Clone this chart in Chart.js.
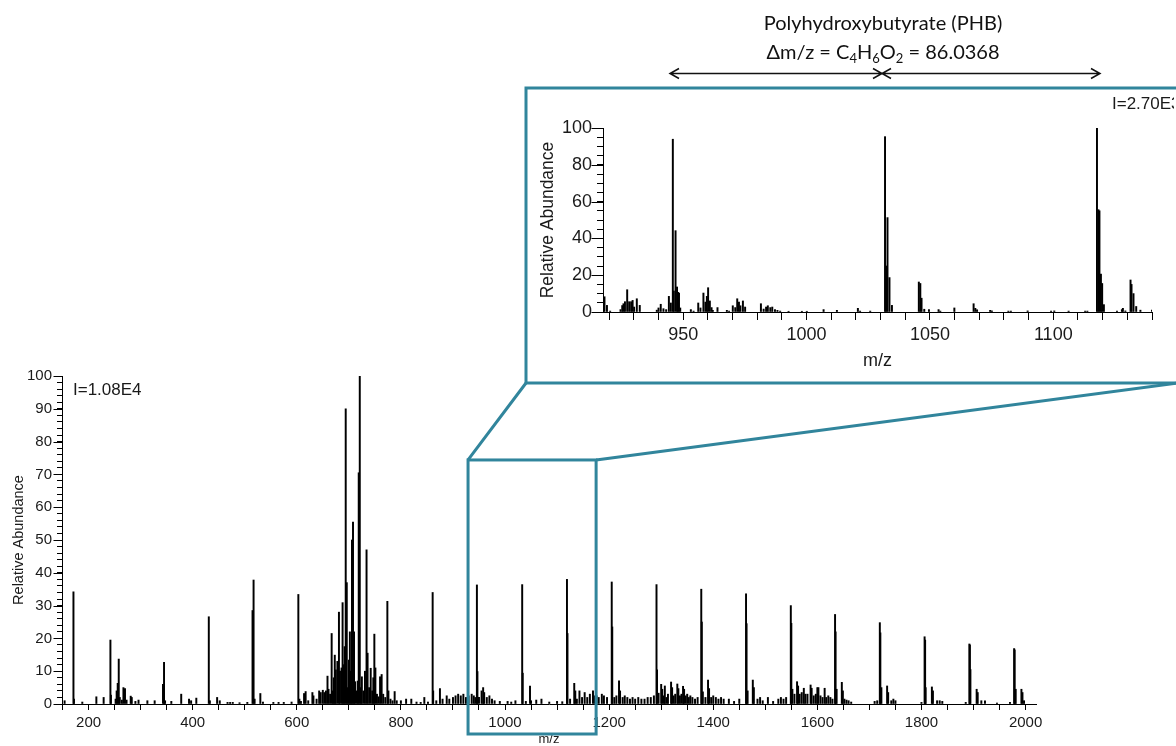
<!DOCTYPE html>
<html>
<head>
<meta charset="utf-8">
<script src="https://cdn.jsdelivr.net/npm/chart.js@4.4.1/dist/chart.umd.min.js"></script>
<style>
  html, body { margin: 0; padding: 0; background: #fff; overflow: hidden; }
  #wrap { position: relative; width: 1176px; height: 746px; }
  #main { position: absolute; left: 0; top: 0; }
  #inset { position: absolute; left: 530px; top: 92px; }
  .phb { position: absolute; left: 633px; width: 500px; text-align: center; font-family: Lato, "Open Sans", sans-serif;
         font-size: 20px; line-height: 24px; color: #111; white-space: nowrap; }
  .phb sub { font-size: 13px; line-height: 0; vertical-align: -4px; }
</style>
</head>
<body>
<div id="wrap">
  <canvas id="main" width="1176" height="746"></canvas>
  <canvas id="inset" width="644" height="288"></canvas>
  <div class="phb" style="top:10px">Polyhydroxybutyrate (PHB)</div>
  <div class="phb" style="top:39px">&Delta;m/z = C<sub>4</sub>H<sub>6</sub>O<sub>2</sub> = 86.0368</div>
</div>
<script>
// full scan, m/z 150-2020
const mainMz = [154, 171, 172, 188, 215, 229, 242, 243, 252, 254, 256, 258, 260, 264, 267, 270, 273, 281, 283, 290,
  296, 313, 327, 343, 345, 347, 359, 378, 393, 397, 407, 431, 433, 447, 452, 467, 472, 477, 490, 505,
  515, 517, 519, 530, 535, 555, 565, 575, 590, 603, 605, 608, 614, 617, 622, 630, 632, 638, 643, 646,
  650, 653, 656, 659, 661, 664, 667, 669, 671, 673, 675, 678, 681, 683, 686, 688, 690, 692, 694, 696,
  698, 700, 702, 704, 706, 708, 710, 712, 715, 717, 719, 721, 723, 725, 728, 731, 734, 736, 739, 742,
  745, 747, 749, 751, 754, 757, 760, 763, 766, 770, 774, 776, 780, 784, 788, 792, 800, 810, 820, 830,
  838, 845, 852, 861, 862, 868, 875, 880, 888, 893, 900, 905, 910, 915, 920, 925, 930, 936, 940, 943,
  946, 947, 950, 955, 958, 960, 965, 970, 975, 980, 990, 1005, 1012, 1020, 1033, 1034, 1040, 1048, 1050, 1060,
  1070, 1085, 1100, 1110, 1119, 1120, 1125, 1133, 1135, 1138, 1143, 1148, 1153, 1158, 1163, 1169, 1172, 1176, 1180, 1186,
  1190, 1196, 1205, 1206, 1210, 1214, 1219, 1221, 1226, 1230, 1235, 1240, 1245, 1250, 1256, 1262, 1268, 1274, 1280, 1286,
  1291, 1292, 1295, 1300, 1302, 1305, 1307, 1310, 1313, 1319, 1321, 1324, 1327, 1331, 1333, 1336, 1339, 1342, 1344, 1347,
  1350, 1353, 1356, 1360, 1365, 1370, 1377, 1378, 1380, 1385, 1390, 1392, 1396, 1400, 1405, 1410, 1415, 1420, 1430, 1440,
  1450, 1463, 1464, 1466, 1476, 1478, 1485, 1490, 1495, 1505, 1515, 1525, 1530, 1535, 1540, 1549, 1550, 1552, 1556, 1561,
  1563, 1566, 1570, 1574, 1577, 1581, 1587, 1589, 1593, 1597, 1600, 1602, 1606, 1610, 1614, 1617, 1621, 1625, 1629, 1634,
  1635, 1637, 1647, 1649, 1652, 1656, 1660, 1665, 1710, 1715, 1720, 1721, 1723, 1734, 1736, 1742, 1746, 1750, 1800, 1806,
  1807, 1808, 1820, 1822, 1830, 1835, 1840, 1885, 1892, 1893, 1894, 1906, 1908, 1915, 1922, 1945, 1970, 1978, 1979, 1981,
  1992, 1994, 1997];
const mainAbund = [1.0, 34.2, 1.5, 0.6, 2.2, 2.0, 19.5, 2.7, 1.5, 4, 6.3, 13.7, 2, 1.2, 5, 4.7, 1.2, 2.4, 2, 0.8,
  1.2, 1.0, 1.0, 6, 12.7, 1, 0.8, 3, 1.5, 1, 1.8, 26.6, 1, 2, 1, 0.5, 0.5, 0.5, 0.4, 0.5,
  28.5, 37.8, 1.5, 3.2, 0.6, 0.5, 0.5, 0.5, 0.6, 33.4, 1.5, 0.8, 3.2, 3.8, 1.0, 3.5, 2.5, 1.5, 4, 3.5,
  4.2, 3.5, 4.0, 8.5, 4.5, 3, 21.5, 4, 8, 14.9, 10.4, 13, 28, 10, 11, 30.9, 12, 17.5, 90, 37,
  5, 13.4, 22, 10, 50, 55.5, 22, 6.8, 4, 7, 70.5, 100, 5, 8.3, 4, 10, 47, 15.5, 5, 10.9,
  4, 8, 21.3, 11, 3, 2.2, 8.3, 9, 3, 2, 31.3, 4, 1.5, 1, 3.8, 1, 1, 1.5, 1.5, 0.6,
  0.5, 2, 0.6, 34, 4, 1, 4.7, 1.5, 2.5, 1.5, 2, 2.5, 3, 2.5, 3, 2, 2.5, 3, 2.5, 2,
  36.3, 9.9, 2, 4, 5, 3.5, 2, 2.5, 1.5, 1, 0.8, 0.8, 0.6, 1, 36.4, 9.4, 0.8, 5.5, 1, 1.2,
  1.5, 0.6, 0.8, 0.7, 38, 21.5, 1.5, 6.3, 4, 1.5, 4, 2, 3.5, 2, 3, 4, 2.5, 2.5, 2, 3,
  2.5, 2, 37.2, 23.5, 2, 2.5, 7.1, 4, 2, 2.5, 2, 1.5, 2, 1.5, 2, 1.5, 1.5, 2, 2, 2.5,
  36.4, 10.4, 3.3, 6, 4.5, 2.5, 5.5, 2, 3, 6.7, 5, 2.5, 3, 6.1, 4.7, 2.5, 3, 5.4, 4.5, 2.5,
  3, 2, 2.5, 2, 1.5, 2, 35, 25, 3.7, 2, 7.3, 4.7, 2, 2.5, 2, 1.5, 2, 1.5, 1.5, 0.8,
  1.5, 33.6, 24.5, 4, 7.3, 5, 1.5, 2, 1, 2, 0.8, 1.5, 2, 1.5, 2, 30, 24.6, 4.5, 3, 6.8,
  5.5, 3, 3.5, 4.8, 3, 3, 5.8, 4.8, 2.5, 3, 5, 5, 2.5, 2, 4.8, 2, 2.5, 2, 1.5, 27.3,
  22, 4.5, 6.6, 4, 1.5, 1.2, 1, 0.6, 0.8, 1, 24.8, 21.7, 5, 5.5, 3.5, 1, 1.5, 1, 0.5, 20.5,
  19.5, 5, 5.2, 4, 1, 1, 0.8, 0.5, 18.3, 18, 10.5, 4.5, 3.5, 1, 1, 0.3, 0.5, 16.9, 16.5, 4.5,
  4.5, 3.5, 1];

// expanded scan, m/z 917.5-1140
const insetMz = [918.1, 919.1, 920.4, 924.6, 925.3, 925.8, 926.4, 927.3, 928.1, 928.9, 929.5, 930.1, 931.2, 932.4,
  939.3, 940.0, 940.9, 942.0, 943.1, 944.2, 945.0, 945.8, 946.2, 946.9, 947.5, 947.9, 948.3, 948.8,
  953.1, 954.2, 956.1, 957.0, 958.2, 959.0, 959.6, 960.1, 960.8, 961.5, 962.0, 963.9, 967.7, 968.6,
  970.1, 971.1, 971.9, 972.6, 973.2, 974.2, 975.1, 981.5, 982.6, 983.6, 984.3, 985.3, 986.1, 987.2,
  988.2, 989.3, 992.7, 998.1, 1000.1, 1006.9, 1012.3, 1020.8, 1021.7, 1025.8, 1031.8, 1032.3, 1032.8, 1033.6,
  1034.6, 1045.5, 1046.1, 1046.6, 1047.7, 1049.6, 1053.5, 1054.2, 1059.9, 1067.7, 1068.4, 1069.1, 1074.4, 1075.1,
  1081.8, 1082.8, 1089.6, 1099.1, 1100.4, 1106.2, 1112.9, 1113.8, 1117.7, 1118.3, 1118.7, 1119.3, 1119.8, 1120.5,
  1125.8, 1127.8, 1128.2, 1129.2, 1131.3, 1131.7, 1132.5, 1133.6, 1135.3, 1140.0];
const insetAbund = [8.3, 3.6, 0.5, 1.3, 3.5, 4.5, 5.6, 12.1, 5.6, 5.6, 6.3, 2.7, 7.2, 3.6,
  1, 2.2, 4.2, 1.8, 1.3, 8.5, 4.9, 93.9, 11.4, 44.2, 13.6, 10.7, 10.3, 2.2,
  1.3, 0.5, 4.9, 2.2, 10.3, 5.4, 8.5, 13.2, 6, 2.4, 0.9, 2.4, 0.9, 0.5,
  3.4, 2.4, 7.2, 5.4, 3.4, 6, 2.7, 4.5, 1.6, 2.7, 3.4, 2.4, 2.7, 1.3,
  0.9, 0.5, 0.4, 0.4, 0.4, 1.3, 0.9, 2, 0.5, 0.5, 95.3, 25, 51.3, 18.7,
  3.6, 16.3, 15.5, 7.5, 1.5, 1.3, 1.3, 0.5, 2.2, 4.5, 2, 1.2, 0.9, 0.6,
  0.5, 0.5, 0.6, 0.5, 0.6, 0.5, 0.5, 0.5, 100, 55.6, 55, 20.6, 15.5, 4,
  0.5, 1.3, 2, 0.6, 17.4, 15, 10, 3, 1, 1];

// labelled ticks
const mainXLabels = [200, 400, 600, 800, 1000, 1200, 1400, 1600, 1800, 2000];
const mainYLabels = [0, 10, 20, 30, 40, 50, 60, 70, 80, 90, 100];
const insetXLabels = [950, 1000, 1050, 1100];
const insetYLabels = [0, 20, 40, 60, 80, 100];

const TEAL = '#31859c';
const FONT = '"Liberation Sans", Arial, sans-serif';
const INK = '#1a1a1a';

function stepTicks(from, to, step) {
  const out = [];
  for (let v = from; v <= to + 1e-9; v += step) out.push({ value: Math.round(v * 100) / 100 });
  return out;
}

function toPoints(xs, ys) {
  return xs.map((x, i) => ({ x: x, y: ys[i] }));
}

function axisX(opts) {
  return {
    type: 'linear', min: opts.min, max: opts.max, offset: false,
    border: { display: true, color: '#000', width: 1 },
    grid: { display: true, drawOnChartArea: false, drawTicks: true, tickLength: opts.tickLength, color: '#000', offset: false },
    ticks: {
      autoSkip: false, maxRotation: 0, padding: opts.padding, color: INK,
      font: { family: FONT, size: opts.fontSize },
      callback: v => opts.labels.includes(v) ? String(v) : ''
    },
    title: { display: true, text: 'm/z', color: INK, font: { family: FONT, size: opts.titleSize, lineHeight: 1 },
             padding: { top: 0, bottom: opts.titlePad } },
    afterBuildTicks: s => { s.ticks = stepTicks(opts.first, opts.last, opts.step); },
    afterFit: s => { s.height = opts.height; }
  };
}

function axisY(opts) {
  return {
    min: 0, max: 100,
    border: { display: true, color: '#000', width: 1 },
    grid: { display: true, drawOnChartArea: false, drawTicks: true, tickLength: opts.tickLength, color: '#000' },
    ticks: {
      autoSkip: false, padding: opts.padding, color: INK,
      font: { family: FONT, size: opts.fontSize },
      callback: v => opts.labels.includes(v) ? String(v) : ''
    },
    title: { display: true, text: 'Relative Abundance', color: INK, font: { family: FONT, size: opts.titleSize },
             padding: { top: opts.titlePad, bottom: 0 } },
    afterBuildTicks: s => { s.ticks = stepTicks(0, 100, opts.step); },
    afterFit: s => { s.width = opts.width; }
  };
}

// longer tick marks at the labelled values
function majorTicks(chart, labels, len) {
  const y = chart.scales.y, ctx = chart.ctx, x0 = Math.round(chart.chartArea.left) + 0.5;
  ctx.save();
  ctx.strokeStyle = '#000';
  ctx.lineWidth = 1;
  labels.forEach(v => {
    const py = Math.round(y.getPixelForValue(v)) + 0.5;
    ctx.beginPath();
    ctx.moveTo(x0 - len, py);
    ctx.lineTo(x0, py);
    ctx.stroke();
  });
  ctx.restore();
}

function arrow(ctx, x1, x2, y) {
  ctx.beginPath();
  ctx.moveTo(x1, y);
  ctx.lineTo(x2, y);
  ctx.moveTo(x1 + 9, y - 5); ctx.lineTo(x1, y); ctx.lineTo(x1 + 9, y + 5);
  ctx.moveTo(x2 - 9, y - 5); ctx.lineTo(x2, y); ctx.lineTo(x2 - 9, y + 5);
  ctx.stroke();
}

const mainDecor = {
  id: 'mainDecor',
  afterDraw(chart) {
    const ctx = chart.ctx, xs = chart.scales.x, ys = chart.scales.y;
    majorTicks(chart, mainYLabels, 9);

    ctx.save();
    ctx.fillStyle = INK;
    ctx.font = '17px ' + FONT;
    ctx.textBaseline = 'middle';
    ctx.fillText('I=1.08E4', 73, 390);

    // zoom window on the full scan and the frame around the expanded scan
    const bx1 = xs.getPixelForValue(929), bx2 = xs.getPixelForValue(1175);
    const by1 = ys.getPixelForValue(74.4), by2 = chart.chartArea.bottom + 30;
    ctx.strokeStyle = TEAL;
    ctx.lineWidth = 3;
    ctx.lineJoin = 'miter';
    ctx.strokeRect(bx1, by1, bx2 - bx1, by2 - by1);
    ctx.strokeRect(526, 88, 660, 295);
    ctx.beginPath();
    ctx.moveTo(bx1, by1); ctx.lineTo(526, 383);
    ctx.moveTo(bx2, by1); ctx.lineTo(1178, 383);
    ctx.stroke();

    // repeat-unit spacing arrows
    ctx.strokeStyle = '#111';
    ctx.lineWidth = 1.5;
    arrow(ctx, 670, 882, 73.5);
    arrow(ctx, 882, 1100, 73.5);
    ctx.restore();
  }
};

const insetDecor = {
  id: 'insetDecor',
  afterDraw(chart) {
    majorTicks(chart, insetYLabels, 12);
    const ctx = chart.ctx;
    ctx.save();
    ctx.fillStyle = INK;
    ctx.font = '17px ' + FONT;
    ctx.textBaseline = 'middle';
    ctx.fillText('I=2.70E3', 582, 12);
    ctx.restore();
  }
};

const baseOptions = {
  responsive: false,
  animation: false,
  devicePixelRatio: 1,
  plugins: { legend: { display: false }, tooltip: { enabled: false } }
};

new Chart(document.getElementById('main').getContext('2d'), {
  type: 'bar',
  data: {
    datasets: [{
      data: toPoints(mainMz, mainAbund),
      backgroundColor: '#000',
      borderWidth: 0,
      barThickness: 1.3
    }]
  },
  options: Object.assign({}, baseOptions, {
    layout: { padding: { left: 0, top: 376, right: 140, bottom: 0 } },
    scales: {
      x: axisX({ min: 149, max: 2020, first: 150, last: 2000, step: 50, labels: mainXLabels,
                 tickLength: 6, padding: 4, fontSize: 15, titleSize: 13, titlePad: 0, height: 42 }),
      y: axisY({ step: 2, labels: mainYLabels, tickLength: 5, padding: 5, fontSize: 15,
                 titleSize: 14.5, titlePad: 10, width: 62 })
    }
  }),
  plugins: [mainDecor]
});

new Chart(document.getElementById('inset').getContext('2d'), {
  type: 'bar',
  data: {
    datasets: [{
      data: toPoints(insetMz, insetAbund),
      backgroundColor: '#000',
      borderWidth: 0,
      barThickness: 1.3
    }]
  },
  options: Object.assign({}, baseOptions, {
    layout: { padding: { left: 0, top: 36, right: 22, bottom: 0 } },
    scales: {
      x: axisX({ min: 917.5, max: 1140, first: 920, last: 1140, step: 10, labels: insetXLabels,
                 tickLength: 8, padding: 4, fontSize: 18, titleSize: 18, titlePad: 10, height: 68 }),
      y: axisY({ step: 5, labels: insetYLabels, tickLength: 6, padding: 5, fontSize: 18,
                 titleSize: 17.5, titlePad: 8, width: 73 })
    }
  }),
  plugins: [insetDecor]
});
</script>
</body>
</html>
